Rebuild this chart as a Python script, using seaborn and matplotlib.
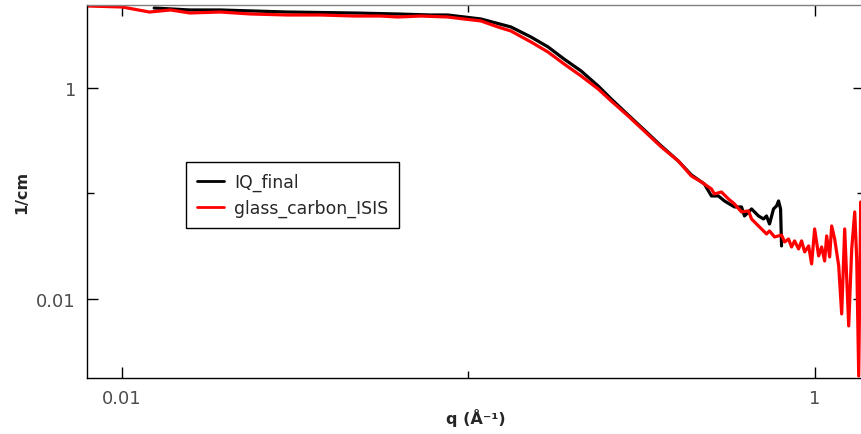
import matplotlib
matplotlib.use("Agg")
import matplotlib.pyplot as plt
import matplotlib.ticker as mticker
import seaborn as sns
import pandas as pd

# ---------------- data ----------------
q_iq_final = [0.01238, 0.0157, 0.0192, 0.0300, 0.0469, 0.0625, 0.0779, 0.0872,
              0.1087, 0.1327, 0.1517, 0.1699, 0.1890, 0.2117, 0.2371, 0.2585,
              0.2894, 0.3221, 0.3607, 0.4040, 0.4406, 0.4804, 0.5034, 0.5274,
              0.549, 0.5868, 0.6149, 0.6273, 0.6573, 0.6885, 0.7118, 0.7262,
              0.7408, 0.7608, 0.7762, 0.7867, 0.7973, 0.8025]
i_iq_final = [5.73, 5.49, 5.49, 5.25, 5.14, 5.03, 4.92, 4.92,
              4.51, 3.79, 3.04, 2.45, 1.88, 1.449, 1.045, 0.787,
              0.555, 0.400, 0.282, 0.203, 0.150, 0.1230, 0.0947, 0.0947,
              0.0849, 0.0745, 0.0745, 0.0612, 0.0713, 0.0612, 0.0573, 0.0612,
              0.0514, 0.0713, 0.0761, 0.0849, 0.0713, 0.0318]

q_glass = [0.00792, 0.0100, 0.0120, 0.0138, 0.0157, 0.0192, 0.0235, 0.0300,
           0.0374, 0.0469, 0.0558, 0.0625, 0.0729, 0.0872, 0.0970, 0.1087,
           0.1217, 0.1327, 0.1517, 0.1699, 0.1890, 0.2117, 0.2371, 0.2585,
           0.2894, 0.3221, 0.3607, 0.4040, 0.4406, 0.4710, 0.5034, 0.5136,
           0.5381, 0.5638, 0.5868, 0.6149, 0.6442, 0.6573, 0.6885, 0.7024,
           0.7262, 0.7408, 0.7660, 0.8025, 0.8188, 0.8408, 0.8578, 0.8751,
           0.8988, 0.9170, 0.9356, 0.9608, 0.9802, 1.0000, 1.0270, 1.0478,
           1.0688, 1.0832, 1.1051, 1.1199, 1.1426, 1.1735, 1.1970, 1.2212,
           1.2542, 1.2796, 1.3055, 1.3229, 1.3406, 1.3586, 1.3861]
i_glass = [5.99, 5.86, 5.25, 5.49, 5.14, 5.25, 5.03, 4.92,
           4.92, 4.81, 4.81, 4.71, 4.81, 4.71, 4.51, 4.32,
           3.79, 3.47, 2.73, 2.19, 1.689, 1.299, 0.978, 0.753,
           0.543, 0.391, 0.276, 0.203, 0.1465, 0.1285, 0.1103, 0.0989,
           0.1033, 0.0887, 0.0795, 0.0668, 0.0683, 0.0573, 0.0492, 0.0461,
           0.0413, 0.0441, 0.0387, 0.0403, 0.0347, 0.0370, 0.0311, 0.0355,
           0.0298, 0.0355, 0.0279, 0.0318, 0.0215, 0.0461, 0.0256, 0.0311,
           0.0229, 0.0396, 0.0250, 0.0492, 0.0370, 0.0206, 0.00721, 0.0461,
           0.00555, 0.0298, 0.0668, 0.0239, 0.00186, 0.0831, 0.0318]

series_names = ["IQ_final", "glass_carbon_ISIS"]
series_colors = ["#000000", "#ff0000"]
x_tick_values = [0.01, 1]
x_tick_labels = ["0.01", "1"]
y_tick_values = [0.01, 1]
y_tick_labels = ["0.01", "1"]
x_label = "q (Å⁻¹)"
y_label = "1/cm"

# ---------------- figure ----------------
sns.set_style("white")
plt.rcParams["font.family"] = ["DejaVu Sans"]

fig = plt.figure(figsize=(8.62, 4.35), dpi=100)
ax = fig.add_axes([87 / 862, 1 - 379 / 435, 1.002 - 87 / 862, (379 - 6) / 435])

df1 = pd.DataFrame({"q": q_iq_final, "I": i_iq_final})
df2 = pd.DataFrame({"q": q_glass, "I": i_glass})
sns.lineplot(data=df1, x="q", y="I", color=series_colors[0], linewidth=2.3,
             label=series_names[0], estimator=None, sort=False, ax=ax)
sns.lineplot(data=df2, x="q", y="I", color=series_colors[1], linewidth=2.3,
             label=series_names[1], estimator=None, sort=False, ax=ax)

ax.set_xscale("log")
ax.set_yscale("log")
ax.set_xlim(0.00792, 1.386)
ax.set_ylim(0.00178, 6.12)

ax.xaxis.set_major_locator(mticker.FixedLocator(x_tick_values))
ax.xaxis.set_major_formatter(mticker.FixedFormatter(x_tick_labels))
ax.xaxis.set_minor_locator(mticker.FixedLocator([0.001, 0.1, 10]))
ax.xaxis.set_minor_formatter(mticker.NullFormatter())
ax.yaxis.set_major_locator(mticker.FixedLocator(y_tick_values))
ax.yaxis.set_major_formatter(mticker.FixedFormatter(y_tick_labels))
ax.yaxis.set_minor_locator(mticker.FixedLocator([0.001, 0.1, 10]))
ax.yaxis.set_minor_formatter(mticker.NullFormatter())

ax.tick_params(which="both", direction="in", top=True, right=True,
               bottom=True, left=True, color="black", width=1.0)
ax.tick_params(which="major", length=8, labelsize=13, labelcolor="#4d4d4d", pad=8)
ax.tick_params(which="minor", length=5)

for side in ["left", "bottom"]:
    ax.spines[side].set_color("black")
    ax.spines[side].set_linewidth(1.0)
ax.spines["top"].set_color("#808080")
ax.spines["top"].set_linewidth(1.0)
ax.spines["right"].set_visible(False)

ax.set_xlabel(x_label, fontsize=11.5, fontweight="bold", labelpad=1)
ax.set_ylabel(y_label, fontsize=11.5, fontweight="bold", labelpad=5)

leg = ax.legend(loc="upper left", bbox_to_anchor=((186 - 87) / 775, 1 - (163 - 6) / 373),
                borderaxespad=0, frameon=True, fancybox=False, shadow=False,
                fontsize=12.4, handlelength=1.6, handletextpad=0.55,
                borderpad=0.62, labelspacing=0.45)
leg.get_frame().set_edgecolor("black")
leg.get_frame().set_linewidth(1.0)
leg.get_frame().set_alpha(1)
for line in leg.get_lines():
    line.set_linewidth(2.0)

fig.savefig("out.png", dpi=100)
